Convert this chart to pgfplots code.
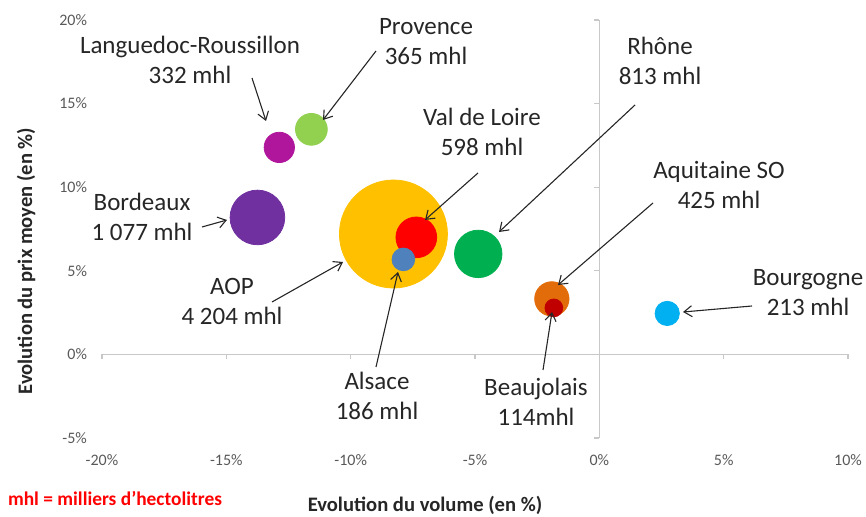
\documentclass[border=0pt]{standalone}
\usepackage{pgfplots}
\pgfplotsset{compat=1.18}
\usepackage{pgfplotstable}
\usepackage{fontspec}
\setmainfont{Carlito}
\usetikzlibrary{arrows.meta}

\definecolor{cAOP}{RGB}{255,192,0}
\definecolor{cLang}{RGB}{176,22,155}
\definecolor{cProv}{RGB}{146,208,80}
\definecolor{cBord}{RGB}{112,48,160}
\definecolor{cVdL}{RGB}{255,0,0}
\definecolor{cAls}{RGB}{79,129,189}
\definecolor{cRho}{RGB}{0,176,80}
\definecolor{cAqu}{RGB}{227,108,10}
\definecolor{cBea}{RGB}{192,0,0}
\definecolor{cBou}{RGB}{0,176,240}
\definecolor{tickgray}{RGB}{89,89,89}
\definecolor{axgray}{RGB}{200,200,200}
\definecolor{labtext}{RGB}{38,38,38}

% x: evolution du volume (%), y: evolution du prix moyen (%), v: volume (mhl)
\pgfplotstableread{
x      y      v     cls
-8.28  7.20   4204  aop
-12.87 12.38  332   lang
-11.58 13.46  365   prov
-13.75 8.19   1077  bord
-7.36  7.00   598   vdl
-7.88  5.68   186   als
-4.87  6.01   813   rho
-1.91  3.32   425   aqu
-1.83  2.78   114   bea
2.73   2.45   213   bou
}\bubbles

\begin{document}
\begin{tikzpicture}
\begin{axis}[
  at={(51pt,39.5pt)}, anchor=south west,
  scale only axis, width=373pt, height=209pt,
  xmin=-20, xmax=10, ymin=-5, ymax=20,
  clip=false,
  axis line style={draw=none},
  major tick length=0pt,
  xtick={-20,-15,...,10}, ytick={-5,0,...,20},
  xticklabels={-20\%,-15\%,-10\%,-5\%,0\%,5\%,10\%},
  yticklabels={-5\%,0\%,5\%,10\%,15\%,20\%},
  ticklabel style={font=\fontsize{8}{9}\selectfont, text=tickgray},
  xticklabel style={yshift=-5pt},
  yticklabel style={xshift=-4pt},
]
\draw[axgray, line width=0.6pt] (-20,0) -- (10,0);
\draw[axgray, line width=0.6pt] (0,-5) -- (0,20);
\pgfplotsinvokeforeach{-20,-15,...,10}{
  \draw[axgray, line width=0.6pt] (#1,0) -- ++(0pt,-2.5pt);
}
\pgfplotsinvokeforeach{-5,0,...,20}{
  \draw[axgray, line width=0.6pt] (0,#1) -- ++(-2.5pt,0pt);
}
\addplot[
  scatter, only marks, mark=*,
  scatter src=explicit symbolic,
  scatter/classes={
    aop={draw=cAOP,fill=cAOP},
    lang={draw=cLang,fill=cLang},
    prov={draw=cProv,fill=cProv},
    bord={draw=cBord,fill=cBord},
    vdl={draw=cVdL,fill=cVdL},
    als={draw=cAls,fill=cAls},
    rho={draw=cRho,fill=cRho},
    aqu={draw=cAqu,fill=cAqu},
    bea={draw=cBea,fill=cBea},
    bou={draw=cBou,fill=cBou}},
  visualization depends on={\thisrow{v}\as\vol},
  scatter/@pre marker code/.append style={/tikz/mark size={0.4164*sqrt(\vol)}},
] table[x=x, y=y, meta=cls] {\bubbles};
\end{axis}

\begin{scope}[x=0.5pt,y=-0.5pt,yshift=258.5pt,
  lab/.style={font=\fontsize{12.5}{15}\selectfont, align=center, text=labtext},
  arr/.style={-{Straight Barb[length=4pt,width=5.5pt]}, line width=0.55pt, draw=labtext}]
\node[lab] at (190,60) {Languedoc-Roussillon\\332 mhl};
\draw[arr] (252,78) -- (266,121);
\node[lab] at (426,42) {Provence\\365 mhl};
\draw[arr] (376,51) -- (323,120);
\node[lab] at (660,61) {Rhône\\813 mhl};
\draw[arr] (635,105) -- (499,232);
\node[lab] at (482,132) {Val de Loire\\598 mhl};
\draw[arr] (478,173) -- (425,220);
\node[lab] at (719,185) {Aquitaine SO\\425 mhl};
\draw[arr] (653,203) -- (558,285);
\node[lab] at (142,217) {Bordeaux\\1 077 mhl};
\draw[arr] (202,227) -- (227,220);
\node[lab] at (232,301) {AOP\\4 204 mhl};
\draw[arr] (272,302) -- (343,262);
\node[lab] at (377,396) {Alsace\\186 mhl};
\draw[arr] (376,367) -- (398,272);
\node[lab] at (536,402) {Beaujolais\\114mhl};
\draw[arr] (543,370) -- (552,312);
\node[lab] at (808,293) {Bourgogne\\213 mhl};
\draw[arr] (752,306) -- (683,312);

\node[rotate=90, font=\fontsize{10.3}{12}\selectfont\bfseries, text=labtext] at (26,261) {Evolution du prix moyen (en \%)};
\node[font=\fontsize{10.3}{12}\selectfont\bfseries, text=labtext] at (425,505) {Evolution du volume (en \%)};
\node[font=\fontsize{9.7}{12}\selectfont\bfseries, text=red] at (115,499) {mhl = milliers d’hectolitres};
\end{scope}

\pgfresetboundingbox
\path[use as bounding box] (0,0) rectangle (433pt,258.5pt);
\end{tikzpicture}
\end{document}
